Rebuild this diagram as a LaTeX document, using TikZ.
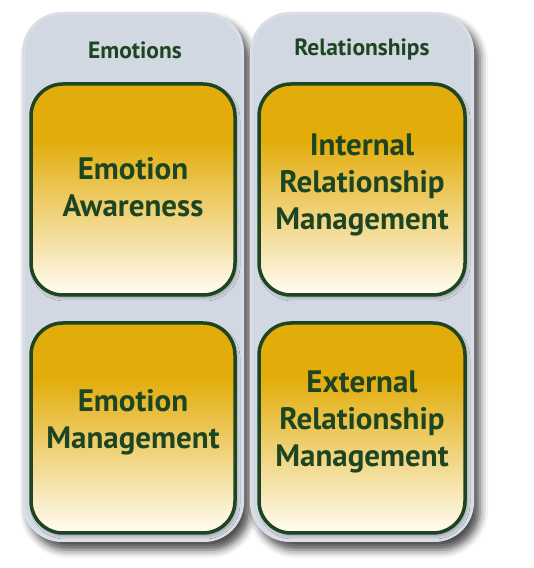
\documentclass[tikz,border=0pt]{standalone}
\usepackage{fontspec}
\setmainfont{PT Sans}
\usetikzlibrary{shadows.blur}
\definecolor{dg}{HTML}{1E4522}
\definecolor{gold}{HTML}{E2AC0A}
\definecolor{cream}{HTML}{FFFCF4}
\definecolor{panelc}{HTML}{D1D8E1}
\pgfdeclareverticalshading{goldfade}{100bp}{color(0bp)=(cream); color(25bp)=(cream); color(62bp)=(gold); color(100bp)=(gold)}
\tikzset{
  panel/.style={fill=panelc, rounded corners=40pt,
    blur shadow={shadow xshift=6pt, shadow yshift=-8pt, shadow blur radius=8pt, shadow opacity=70}},
  panelglow/.style={draw=white, draw opacity=0.2, line width=3pt, rounded corners=38pt},
  card/.style={draw=dg, line width=3.5pt, shading=goldfade, rounded corners=32pt,
    blur shadow={shadow xshift=2pt, shadow yshift=-3pt, shadow blur radius=3pt, shadow opacity=25}},
  cardtext/.style={align=center, text=dg, font=\bfseries\fontsize{31}{37}\selectfont},
  headtext/.style={text=dg, font=\bfseries\fontsize{23.5}{26}\selectfont}
}
\begin{document}
\begin{tikzpicture}[x=1pt,y=1pt]
\useasboundingbox (0,0) rectangle (534,568);
% panels
\path[panel] (22,26) rectangle (244,556);
\path[panel] (250,26) rectangle (474,556);
\path[panelglow] (23.5,27.5) rectangle (242.5,554.5);
\path[panelglow] (251.5,27.5) rectangle (472.5,554.5);
\node[headtext] (h1) at (135,518) {Emotions};
\node[headtext] (h2) at (362,518) {Relationships};
% cards
\path[card] (31,273) rectangle (235,484);
\path[card] (259,273) rectangle (465,484);
\path[card] (31,35) rectangle (235,245);
\path[card] (259,35) rectangle (465,245);
\node[cardtext] (t1) at (133,381) {Emotion\\Awareness};
\node[cardtext] (t2) at (362,383) {Internal\\Relationship\\Management};
\node[cardtext] (t3) at (133,146) {Emotion\\Management};
\node[cardtext] (t4) at (362,146) {External\\Relationship\\Management};
\end{tikzpicture}
\end{document}
